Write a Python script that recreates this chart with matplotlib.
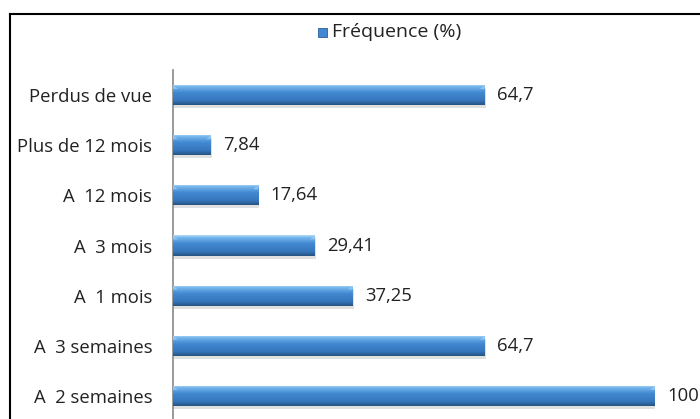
import numpy as np
import matplotlib
matplotlib.use("Agg")
import matplotlib.pyplot as plt
from matplotlib.colors import LinearSegmentedColormap
from matplotlib.lines import Line2D
from matplotlib.patches import Rectangle

categories = ["Perdus de vue", "Plus de 12 mois", "A  12 mois", "A  3 mois",
              "A  1 mois", "A  3 semaines", "A  2 semaines"]
values = [64.7, 7.84, 17.64, 29.41, 37.25, 64.7, 100]
value_labels = ["64,7", "7,84", "17,64", "29,41", "37,25", "64,7", "100"]
series_name = "Fréquence (%)"

plt.rcParams['font.family'] = ['Open Sans', 'DejaVu Sans']
FS = 13.3

W, H = 700, 419
fig = plt.figure(figsize=(W / 100, H / 100), dpi=100)

# axes placement in pixels
x0, x1 = 173, 655
ytop, ybot = 70, 421
ax = fig.add_axes([x0 / W, (H - ybot) / H, (x1 - x0) / W, (ybot - ytop) / H])
ax.set_xlim(0, 100)
n = len(categories)
ax.set_ylim(n - 0.5, -0.5)

cmap = LinearSegmentedColormap.from_list(
    "bev", [(0.0, "#b3dbf8"), (0.12, "#74b5ec"), (0.4, "#4289d2"),
            (0.8, "#3675bb"), (1.0, "#25537f")])
grad = np.linspace(0, 1, 64).reshape(-1, 1)

ypos = np.arange(n)
bh = 0.4
# shadows
for y, v in zip(ypos, values):
    ax.add_patch(Rectangle((0.3, y - bh / 2 + 0.06), v, bh, facecolor="#000000",
                           alpha=0.12, edgecolor="none", zorder=1))
bars = ax.barh(ypos, values, height=bh, color="#4289d2", edgecolor="none", zorder=2)
for bar in bars:
    bx, by = bar.get_x(), bar.get_y()
    bw, bhh = bar.get_width(), bar.get_height()
    im = ax.imshow(grad, cmap=cmap, aspect="auto", interpolation="bilinear",
                   extent=[bx, bx + bw, by + bhh, by], zorder=3)
    im.set_clip_path(bar)
    cap = min(1.0, bw * 0.12)
    ax.add_patch(plt.Polygon([[bx + bw - cap, by + bhh * 0.2], [bx + bw, by],
                              [bx + bw, by + bhh * 0.2]],
                             closed=True, facecolor="#9fcdf2", alpha=0.7,
                             edgecolor="none", zorder=4))
    ax.add_patch(plt.Polygon([[bx, by], [bx + cap, by + bhh * 0.2],
                              [bx, by + bhh * 0.2]],
                             closed=True, facecolor="#9fcdf2", alpha=0.7,
                             edgecolor="none", zorder=4))
ax.set_xlim(0, 100)
ax.set_ylim(n - 0.5, -0.5)

for y, v, lab in zip(ypos, values, value_labels):
    ax.annotate(lab, xy=(v, y), xytext=(9, 0), textcoords="offset points",
                ha="left", va="center", fontsize=FS, color="#222222",
                annotation_clip=False)

ax.set_yticks(ypos)
ax.set_yticklabels(categories, fontsize=FS, color="#222222")
ax.tick_params(axis="y", length=0, pad=15)
ax.set_xticks([])
for s in ["top", "right", "bottom"]:
    ax.spines[s].set_visible(False)
ax.spines["left"].set_color("#888888")
ax.spines["left"].set_linewidth(1.2)

# legend
fig.patches.append(Rectangle((318 / W, 1 - 37 / H), 9 / W, 9 / H,
                             transform=fig.transFigure, facecolor="#4289d2",
                             edgecolor="#2a5f9a", linewidth=0.6))
fig.text(332 / W, 1 - 32 / H, series_name, ha="left", va="center",
         fontsize=14, color="#222222")

# chart border (top & left visible)
fig.add_artist(Line2D([10 / W, 10 / W], [0, 1 - 14 / H], transform=fig.transFigure,
                      color="black", linewidth=1.5))
fig.add_artist(Line2D([10 / W, 1], [1 - 14 / H, 1 - 14 / H], transform=fig.transFigure,
                      color="black", linewidth=1.5))

fig.savefig("out.png", dpi=100)
